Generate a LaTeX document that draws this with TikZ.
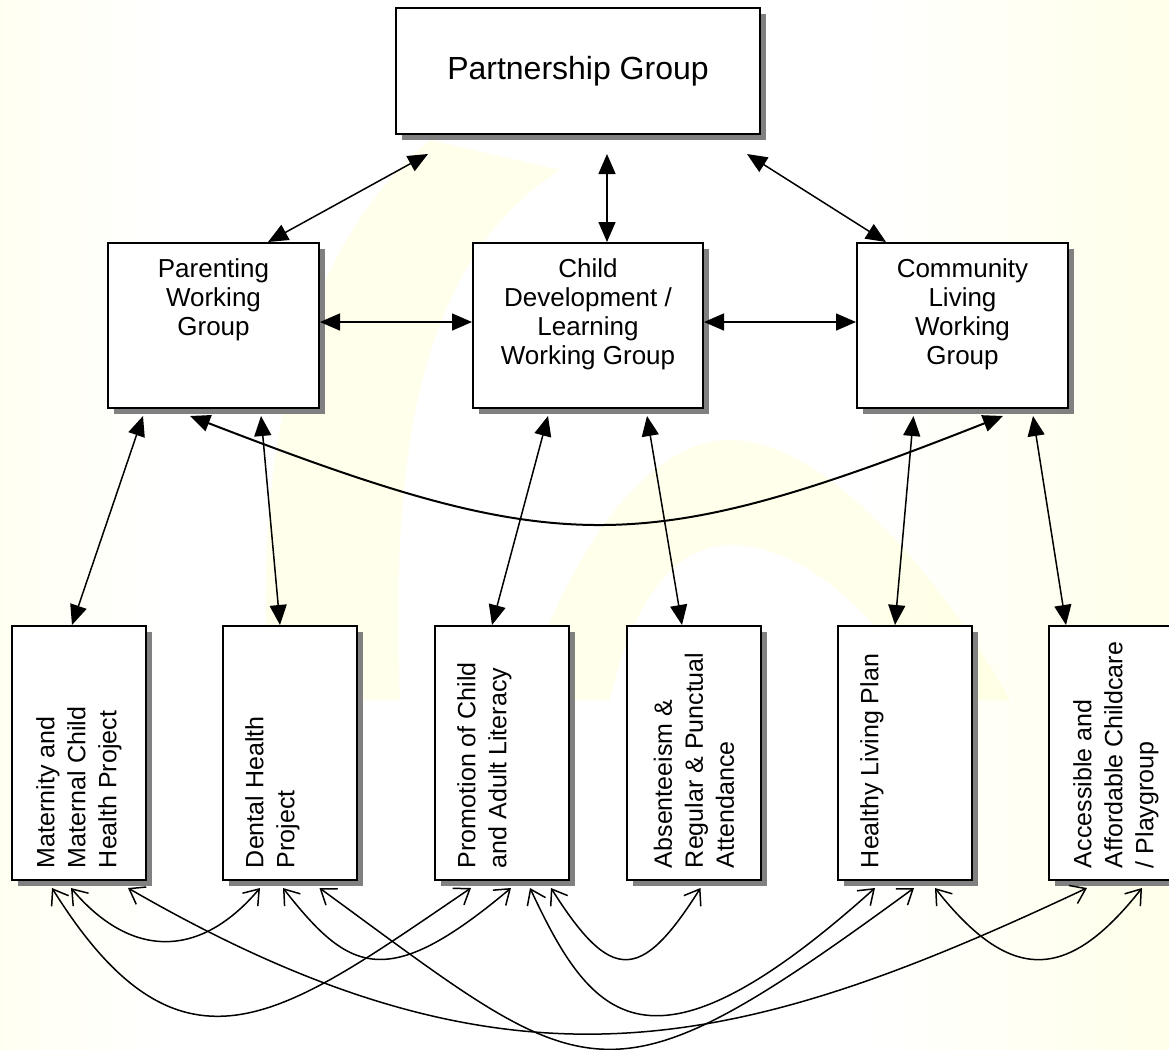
\documentclass[tikz,border=0pt]{standalone}
\usepackage{fontspec}
\setmainfont{Liberation Sans}
\usepackage{graphicx}
\usetikzlibrary{arrows.meta,shadows}
\definecolor{paleyellow}{HTML}{FFFFC0}
\definecolor{boxshadow}{HTML}{808080}
\pgfdeclarehorizontalshading{backshade}{100bp}{color(0bp)=(paleyellow); color(32bp)=(white); color(62bp)=(white); color(100bp)=(paleyellow)}
\newcommand{\uptext}[1]{\rotatebox{90}{\parbox{115pt}{\raggedright #1}}}

\begin{document}
\begin{tikzpicture}[x=0.5pt,y=0.5pt,
    box/.style={draw,line width=1pt,fill=white,inner sep=0pt,
      drop shadow={shadow xshift=3pt,shadow yshift=-3pt,fill=boxshadow,opacity=1}},
    groupbox/.style={box,minimum width=105.5pt,minimum height=82.5pt,align=center,
      font=\fontsize{13}{14.5}\selectfont},
    projbox/.style={box,minimum width=67pt,minimum height=127pt,
      font=\fontsize{12.5}{15.5}\selectfont},
    swoosh/.style={fill=paleyellow,opacity=0.3,draw=none},
    arrow/.style={draw,line width=0.75pt,
      {Triangle[length=10pt,width=8.5pt]}-{Triangle[length=10pt,width=8.5pt]}},
    link/.style={draw,line width=0.75pt,
      {Straight Barb[length=7pt,width=10pt]}-{Straight Barb[length=7pt,width=10pt]}}]

    % background
    \useasboundingbox (0,0) rectangle (1169,-1050);
    \shade[shading=backshade] (0,0) rectangle (1169,-1050);
    \fill[swoosh] (430,-140) .. controls (300,-250) and (250,-450) .. (270,-700)
      -- (400,-700) .. controls (390,-450) and (420,-260) .. (560,-170) -- cycle;
    \fill[swoosh] (520,-700) .. controls (580,-520) and (660,-440) .. (730,-440)
      .. controls (820,-440) and (930,-560) .. (1010,-700)
      -- (930,-700) .. controls (860,-590) and (790,-545) .. (730,-545)
      .. controls (670,-545) and (630,-610) .. (610,-700) -- cycle;

    % boxes
    \node[box,minimum width=182pt,minimum height=63pt,font=\fontsize{16}{19}\selectfont]
      (partner) at (578,-71) {Partnership Group};
    \node[groupbox] (parenting) at (213.5,-325.5) {Parenting\\Working\\Group\\\strut\\[-5pt]\strut};
    \node[groupbox,minimum width=115pt] (childdev) at (588,-325.5) {Child\\Development /\\Learning\\Working Group\\[-5pt]\strut};
    \node[groupbox] (community) at (962.5,-325.5) {Community\\Living\\Working\\Group\\[-5pt]\strut};

    \foreach \name/\x/\txt in {
        maternity/79/{Maternity and\\Maternal Child\\Health Project},
        dental/290/{Dental Health\\Project\\\strut},
        promotion/502/{Promotion of Child\\and Adult Literacy\\\strut},
        absent/694/{Absenteeism \&\\Regular \& Punctual\\Attendance},
        healthy/905/{Healthy Living Plan\\\strut\\\strut},
        access/1116/{Accessible and\\Affordable Childcare\\/ Playgroup}}
    {
      \node[projbox] (\name) at (\x,-753) {\uptext{\txt}};
    }

    % arrow ends
    \foreach \n/\dx in {T1/-75,T2/14.5,T3/84.5}
      \coordinate (\n) at ([xshift=\dx pt,yshift=-9.5pt]partner.south);
    \foreach \n/\b/\dx in {U1/parenting/-35.25,U2/parenting/23.75,U3/childdev/-20,U4/childdev/29.5,
        U5/community/-24.5,U6/community/35.25,U7/parenting/-11.75,U8/community/20.25}
      \coordinate (\n) at ([xshift=\dx pt,yshift=-3.5pt]\b.south);
    \foreach \n/\b/\dx in {M1/maternity/-13.5,M2/maternity/-4,M3/maternity/24.5,
        D1/dental/-15,D2/dental/-3.5,D3/dental/14.75,
        P1/promotion/-15.5,P2/promotion/4.5,P3/promotion/14,P4/promotion/24.5,
        A1/absent/3.25,H1/healthy/-15,H2/healthy/4.5,H3/healthy/15,
        C1/access/-14.5,C2/access/13}
      \coordinate (\n) at ([xshift=\dx pt,yshift=-3.5pt]\b.south);

    % groups
    \draw[arrow] (T1) -- ([xshift=27.25pt]parenting.north);
    \draw[arrow] (T2) -- ([xshift=9.5pt]childdev.north);
    \draw[arrow] (T3) -- ([xshift=-38.25pt]community.north);
    \draw[arrow] ([yshift=1.75pt]parenting.east) -- ([yshift=1.75pt]childdev.west);
    \draw[arrow] ([yshift=1.75pt]childdev.east) -- ([yshift=1.75pt]community.west);
    \draw[arrow,line width=1pt] (U7) .. controls +(370,-143) and +(-363,-143) .. (U8);

    % projects
    \foreach \a/\b/\dx in {U1/maternity/-3.5,U2/dental/-5,U3/promotion/-5,
        U4/absent/-6,U5/healthy/-5,U6/access/-25}
      \draw[arrow] (\a) -- ([xshift=\dx pt]\b.north);

    \foreach \a/\b/\ax/\ay/\bx/\by in {M2/D1/60/-71/-60/-71,M1/P1/131/-210/-186/-126,
        M3/C1/384/-222/-351/-165,D2/P2/66/-84/-125/-105,D3/H2/274/-200/-313/-229,
        P4/A1/60/-95/-60/-95,P3/H1/62/-133/-226/-203,H3/C2/75/-95/-75/-95}
      \draw[link] (\a) .. controls +(\ax,\ay) and +(\bx,\by) .. (\b);

\end{tikzpicture}
\end{document}
